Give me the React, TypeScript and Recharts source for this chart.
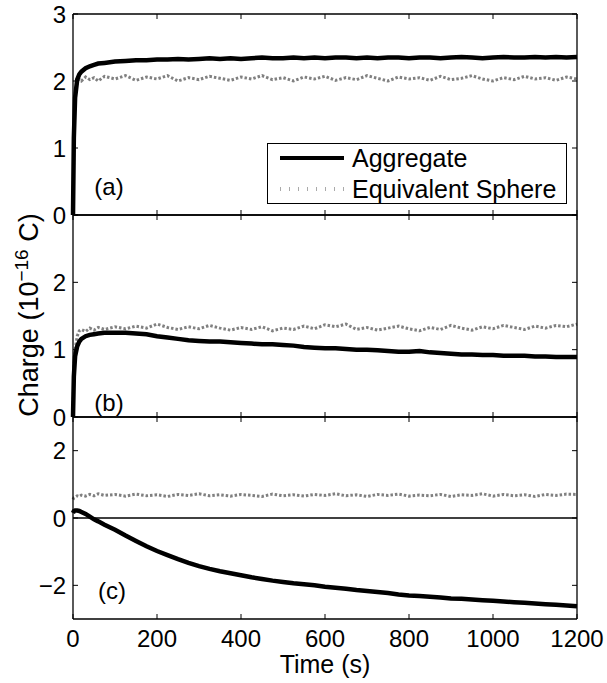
import { LineChart, Line, XAxis, YAxis, ReferenceLine, Legend } from 'recharts';

// time in seconds (shared by every series)
const time = [0, 2, 5, 10, 15, 20, 30, 40, 50, 60, 75,
  100, 125, 150, 175, 200, 225, 250, 275, 300, 325,
  350, 375, 400, 425, 450, 475, 500, 525, 550, 575,
  600, 625, 650, 675, 700, 725, 750, 775, 800, 825,
  850, 875, 900, 925, 950, 975, 1000, 1025, 1050, 1075,
  1100, 1125, 1150, 1175, 1200];

// (a)
const aggA = [0, 1.15, 1.75, 2.02, 2.1, 2.14, 2.19, 2.22, 2.24, 2.26, 2.27,
  2.29, 2.3, 2.31, 2.31, 2.32, 2.32, 2.33, 2.32, 2.33, 2.34,
  2.33, 2.34, 2.33, 2.34, 2.35, 2.34, 2.34, 2.35, 2.34, 2.35,
  2.34, 2.35, 2.35, 2.34, 2.35, 2.34, 2.35, 2.35, 2.34, 2.35,
  2.35, 2.34, 2.35, 2.36, 2.35, 2.34, 2.35, 2.36, 2.35, 2.35,
  2.36, 2.35, 2.36, 2.35, 2.36];
const sphA = [0, 1.1, 1.8, 1.98, 2.03, 2.0, 2.06, 2.02, 2.05, 2.0, 2.07,
  2.03, 2.08, 2.01, 2.06, 2.03, 2.08, 2.0, 2.05, 2.02, 2.07,
  2.04, 2.01, 2.06, 2.03, 2.08, 2.02, 2.05, 2.0, 2.06, 2.03,
  2.07, 2.01, 2.05, 2.02, 2.08, 2.04, 2.0, 2.06, 2.03, 2.05,
  2.01, 2.07, 2.02, 2.04, 2.08, 2.03, 2.0, 2.05, 2.02, 2.07,
  2.03, 2.05, 2.01, 2.06, 2.03];

// (b)
const aggB = [0, 0.6, 0.9, 1.05, 1.12, 1.16, 1.2, 1.22, 1.23, 1.24, 1.25,
  1.25, 1.25, 1.24, 1.23, 1.2, 1.18, 1.16, 1.14, 1.13, 1.12,
  1.12, 1.11, 1.1, 1.09, 1.08, 1.08, 1.07, 1.06, 1.04, 1.03,
  1.02, 1.02, 1.01, 1.0, 1.0, 0.99, 0.98, 0.97, 0.97, 0.98,
  0.96, 0.95, 0.94, 0.93, 0.93, 0.92, 0.92, 0.91, 0.91, 0.91,
  0.9, 0.9, 0.89, 0.89, 0.89];
const sphB = [0, 0.7, 1.0, 1.2, 1.28, 1.3, 1.27, 1.32, 1.29, 1.33, 1.3,
  1.34, 1.31, 1.35, 1.32, 1.38, 1.33, 1.3, 1.34, 1.31, 1.36,
  1.32, 1.29, 1.33, 1.3, 1.34, 1.28, 1.32, 1.3, 1.35, 1.31,
  1.37, 1.34, 1.38, 1.3, 1.33, 1.29, 1.32, 1.35, 1.31, 1.28,
  1.33, 1.3, 1.36, 1.32, 1.29, 1.34, 1.31, 1.36, 1.33, 1.3,
  1.35, 1.32, 1.36, 1.34, 1.38];

// (c)
const aggC = [0.15, 0.2, 0.22, 0.22, 0.21, 0.18, 0.12, 0.04, -0.04, -0.1, -0.2,
  -0.35, -0.52, -0.68, -0.84, -0.98, -1.1, -1.22, -1.33, -1.43, -1.51,
  -1.58, -1.64, -1.7, -1.76, -1.81, -1.86, -1.9, -1.94, -1.97, -2.0,
  -2.04, -2.07, -2.1, -2.14, -2.17, -2.2, -2.23, -2.27, -2.3, -2.32,
  -2.34, -2.36, -2.39, -2.4, -2.42, -2.44, -2.46, -2.48, -2.5, -2.52,
  -2.54, -2.56, -2.58, -2.6, -2.62];
const sphC = [0.55, 0.6, 0.62, 0.66, 0.64, 0.68, 0.65, 0.7, 0.66, 0.72, 0.67,
  0.7, 0.65, 0.71, 0.66, 0.69, 0.64, 0.7, 0.67, 0.72, 0.66,
  0.69, 0.65, 0.7, 0.67, 0.64, 0.71, 0.66, 0.69, 0.65, 0.7,
  0.67, 0.72, 0.66, 0.69, 0.64, 0.7, 0.67, 0.71, 0.65, 0.68,
  0.66, 0.7, 0.64, 0.69, 0.67, 0.72, 0.65, 0.7, 0.66, 0.69,
  0.64, 0.7, 0.67, 0.71, 0.7];

const xTicks = [0, 200, 400, 600, 800, 1000, 1200];
const font = '"Liberation Sans", Arial, Helvetica, sans-serif';
const FS = 24;

const fmt = (v: number) => (v < 0 ? '\u2212' + Math.abs(v) : String(v));

const rows = (agg: number[], sph: number[]) =>
  time.map((t, i) => ({ t, agg: agg[i], sph: sph[i] }));

function LeftTick({ x, y, payload, labels }: any) {
  return (
    <g>
      <line x1={x} y1={y} x2={x + 5} y2={y} stroke="#000" />
      {labels.includes(payload.value) && (
        <text x={x - 7} y={y} dy="0.36em" textAnchor="end" fontSize={FS} fontFamily={font} fill="#000">
          {fmt(payload.value)}
        </text>
      )}
    </g>
  );
}

function RightTick({ x, y }: any) {
  return <line x1={x} y1={y} x2={x - 5} y2={y} stroke="#000" />;
}

function BottomTick({ x, y, payload, showLabel }: any) {
  return (
    <g>
      <line x1={x} y1={y} x2={x} y2={y - 5} stroke="#000" />
      {showLabel && (
        <text x={x} y={y + 28} textAnchor="middle" fontSize={FS} fontFamily={font} fill="#000">
          {payload.value}
        </text>
      )}
    </g>
  );
}

function TopTick({ x, y }: any) {
  return <line x1={x} y1={y} x2={x} y2={y + 5} stroke="#000" />;
}

function LegendBox({ payload }: any) {
  const items = [...(payload || [])].sort((a: any) => (a.value === 'Aggregate' ? -1 : 1));
  return (
    <div style={{ border: '1px solid #000', background: '#fff', width: 300, height: 61, boxSizing: 'border-box', fontFamily: font, fontSize: 25, position: 'relative' }}>
      {items.map((it: any, i: number) => (
        <div key={it.value} style={{ position: 'absolute', left: 0, top: i === 0 ? -1 : 30, height: 30, display: 'flex', alignItems: 'center' }}>
          <svg width={84} height={30}>
            {it.value === 'Aggregate' ? (
              <line x1={12} y1={15} x2={76} y2={15} stroke="#000" strokeWidth={4} />
            ) : (
              <line x1={12} y1={15} x2={76} y2={15} stroke="#aaa" strokeWidth={4} strokeDasharray="1 8" />
            )}
          </svg>
          <span style={{ whiteSpace: 'nowrap' }}>{it.value}</span>
        </div>
      ))}
    </div>
  );
}

type PanelProps = {
  agg: number[];
  sph: number[];
  domain: [number, number];
  yTicks: number[];
  yLabels: number[];
  top: number;
  height: number;
  margin: { top: number; right: number; bottom: number; left: number };
  bottomLabels?: boolean;
  zeroLine?: boolean;
  legend?: boolean;
};

const axisLine = { stroke: '#000', strokeWidth: 1.3 };

function Panel(p: PanelProps) {
  return (
    <div style={{ position: 'absolute', left: 0, top: p.top }}>
      <LineChart width={607} height={p.height} data={rows(p.agg, p.sph)} margin={p.margin}>
        <XAxis xAxisId="b" dataKey="t" type="number" domain={[0, 1200]} ticks={xTicks} height={1}
          axisLine={axisLine} tickLine={false} tickSize={0} tickMargin={0} interval={0}
          tick={(tp: any) => <BottomTick {...tp} showLabel={p.bottomLabels} />} />
        <XAxis xAxisId="top" orientation="top" dataKey="t" type="number" domain={[0, 1200]} ticks={xTicks} height={1}
          axisLine={axisLine} tickLine={false} tickSize={0} tickMargin={0} interval={0}
          tick={(tp: any) => <TopTick {...tp} />} />
        <YAxis yAxisId="l" type="number" domain={p.domain} ticks={p.yTicks} width={1} interval={0}
          axisLine={axisLine} tickLine={false} tickSize={0} tickMargin={0} allowDataOverflow
          tick={(tp: any) => <LeftTick {...tp} labels={p.yLabels} />} />
        <YAxis yAxisId="r" orientation="right" type="number" domain={p.domain} ticks={p.yTicks} width={1} interval={0}
          axisLine={axisLine} tickLine={false} tickSize={0} tickMargin={0} allowDataOverflow
          tick={(tp: any) => <RightTick {...tp} />} />
        {p.zeroLine && <ReferenceLine xAxisId="b" yAxisId="l" y={0} stroke="#000" strokeWidth={1.3} />}
        <Line xAxisId="b" yAxisId="l" dataKey="sph" name="Equivalent Sphere" type="linear" stroke="#808080"
          strokeWidth={3} strokeDasharray="2.5 2" dot={false} isAnimationActive={false} />
        <Line xAxisId="b" yAxisId="l" dataKey="agg" name="Aggregate" type="linear" stroke="#000"
          strokeWidth={4.5} dot={false} isAnimationActive={false} />
        {p.legend && (
          <Legend layout="vertical" align="center" verticalAlign="middle" content={LegendBox}
            wrapperStyle={{ left: 267, top: 143, width: 300, height: 61 }} />
        )}
      </LineChart>
    </div>
  );
}

const tag: React.CSSProperties = { position: 'absolute', fontFamily: font, fontSize: FS, lineHeight: 1, transform: 'translate(-50%, -50%)' };

export default function App() {
  return (
    <div style={{ position: 'absolute', left: 0, top: 0, width: 607, height: 683, background: '#fff', fontFamily: font }}>
      <Panel agg={aggA} sph={sphA} domain={[0, 3]} yTicks={[0, 1, 2, 3]} yLabels={[0, 1, 2, 3]}
        top={0} height={230} margin={{ top: 13, right: 29, bottom: 14, left: 72 }} legend />
      <Panel agg={aggB} sph={sphB} domain={[0, 3]} yTicks={[0, 1, 2, 3]} yLabels={[0, 1, 2]}
        top={200} height={232} margin={{ top: 14, right: 29, bottom: 14, left: 72 }} />
      <Panel agg={aggC} sph={sphC} domain={[-3, 3]} yTicks={[-2, 0, 2]} yLabels={[-2, 0, 2]}
        top={400} height={283} margin={{ top: 16, right: 29, bottom: 63, left: 72 }} bottomLabels zeroLine />
      <div style={{ ...tag, left: 109, top: 187 }}>(a)</div>
      <div style={{ ...tag, left: 109, top: 403 }}>(b)</div>
      <div style={{ ...tag, left: 112, top: 591 }}>(c)</div>
      <div style={{ ...tag, left: 325, top: 664, fontSize: 25 }}>Time (s)</div>
      <div style={{ ...tag, left: 27, top: 315, fontSize: 27, transform: 'translate(-50%, -50%) rotate(-90deg)', whiteSpace: 'nowrap' }}>
        Charge (10<sup style={{ fontSize: 19 }}>{'\u221216'}</sup> C)
      </div>
    </div>
  );
}
